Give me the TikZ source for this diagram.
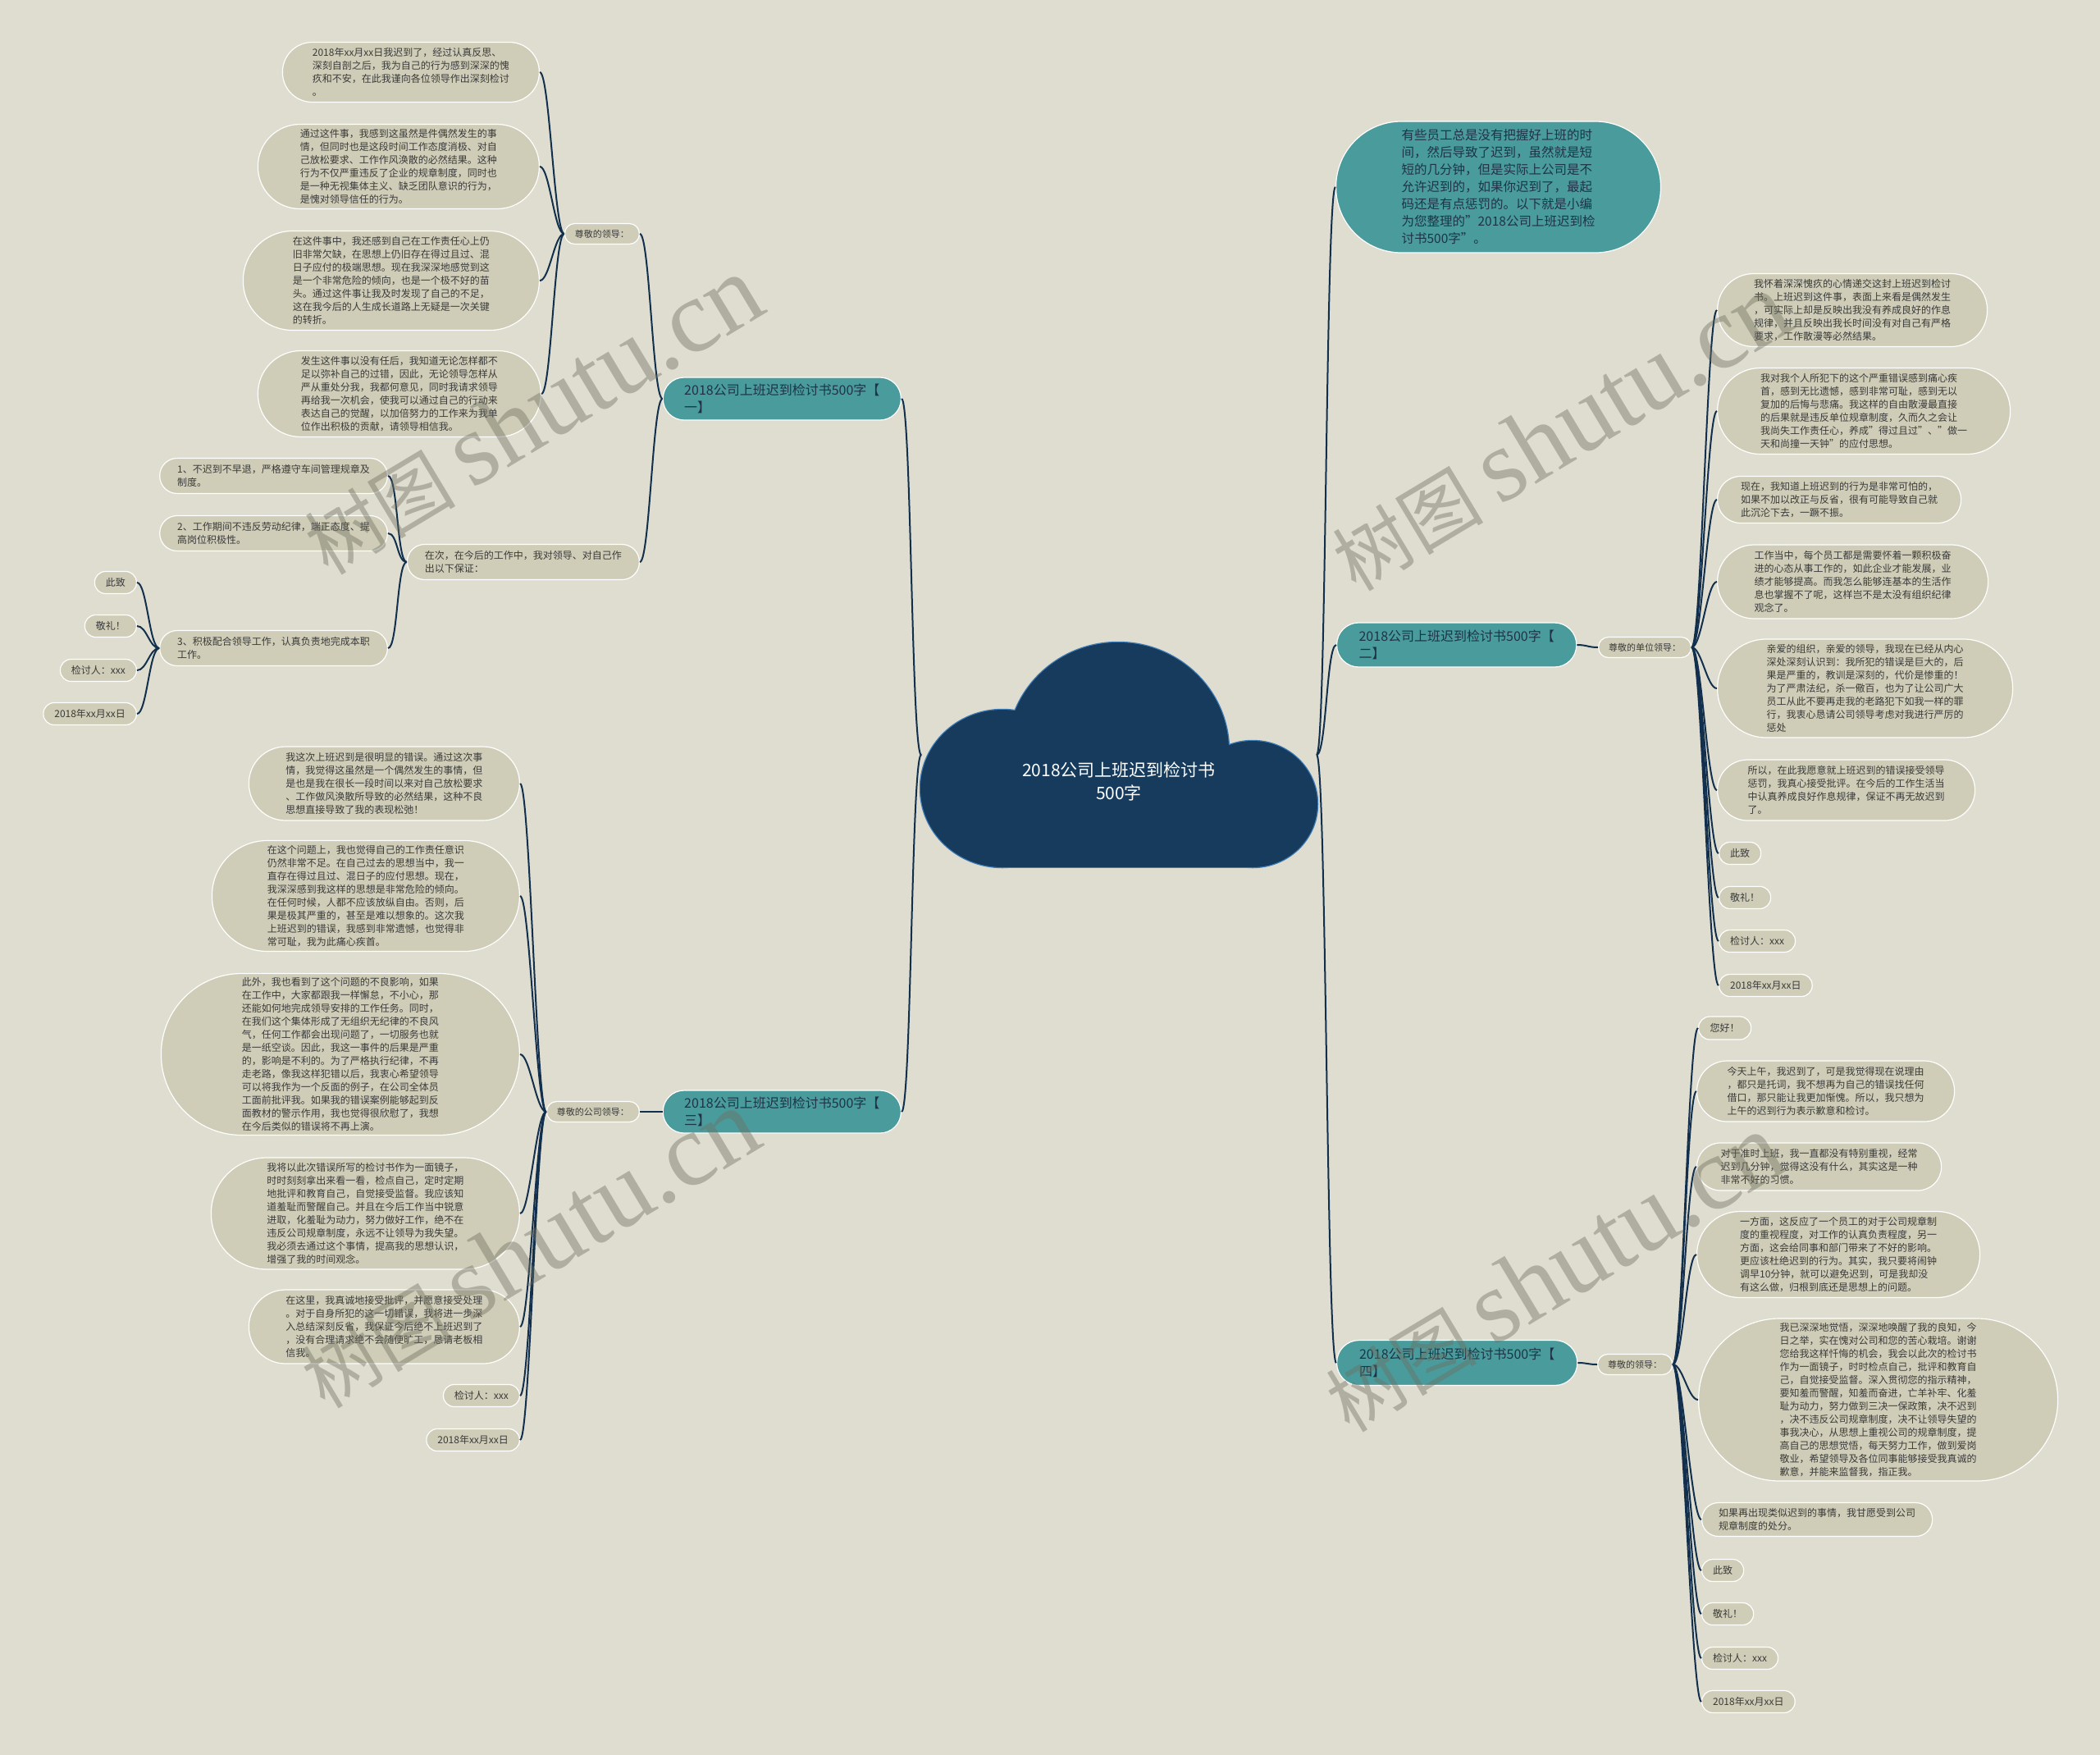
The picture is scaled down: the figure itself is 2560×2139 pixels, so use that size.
\documentclass[tikz,border=0pt]{standalone}
\usepackage{fontspec}
\setmainfont{Noto Sans CJK SC}
\newfontfamily\wmfont{Liberation Serif}
\definecolor{bgc}{HTML}{DEDDCF}
\definecolor{leafc}{HTML}{CFCDB7}
\definecolor{tealc}{HTML}{4A9B9C}
\definecolor{cloudc}{HTML}{163B5C}
\definecolor{cloudedge}{HTML}{3F7CB8}
\definecolor{linkc}{HTML}{12304D}
\definecolor{txtc}{HTML}{3A3A3A}
\definecolor{topictxt}{HTML}{1E3446}
\definecolor{wmc}{HTML}{6E6E60}
\begin{document}
\begin{tikzpicture}[x=1pt,y=-1pt,
        leaf/.style={rectangle,fill=leafc,draw=white,line width=1.2pt,
          minimum height=#1,inner ysep=0pt,inner xsep=#1/2,rounded corners=#1/2-0.3,
          align=left,text=txtc,font=\fontsize{12}{16}\selectfont},
        leaf/.default=27,
        tag/.style={leaf=27},
        ask/.style={leaf=25,font=\fontsize{11}{14}\selectfont},
        topic/.style={leaf=#1,fill=tealc,text=topictxt,font=\fontsize{16}{21}\selectfont},
        topic/.default=52,
        link/.style={draw=linkc,line width=2pt},
        toL/.style={to path={.. controls +(-12,0) and +(12,0) .. (\tikztotarget)}},
        toR/.style={to path={.. controls +(12,0) and +(-12,0) .. (\tikztotarget)}},
        wmark/.style={rotate=31,text=wmc,text opacity=0.42,inner sep=0pt,
          font=\fontsize{92}{92}\selectfont}]
        %\draw[very thin,gray,step=100] (0,0) grid (2560,2139) ;
        \useasboundingbox (0,0) rectangle (2560,2139) ;
        \fill[bgc] (0,0) rectangle (2560,2139) ;
        % cloud: outline first, then the fill on top
        \draw[cloudedge,line width=2.5pt] (1363,915) ellipse (135 and 132) ;
        \draw[cloudedge,line width=2.5pt] (1222,961) ellipse (100 and 96) ;
        \draw[cloudedge,line width=2.5pt] (1527,980) ellipse (79 and 77) ;
        \draw[cloudedge,line width=2.5pt] (1222,961) rectangle (1527,1057) ;
        \fill[cloudc] (1363,915) ellipse (135 and 132) ;
        \fill[cloudc] (1222,961) ellipse (100 and 96) ;
        \fill[cloudc] (1527,980) ellipse (79 and 77) ;
        \fill[cloudc] (1222,961) rectangle (1527,1057) ;
        \node[font=\fontsize{21}{28}\selectfont,text=white,align=center] (root) at (1364,952)
          {2018公司上班迟到检讨书\\500字} ;
        \coordinate (rootL) at (1123,920) ;
        \coordinate (rootR) at (1605,920) ;
        % left side
        \node[topic,anchor=east] (b1) at (1099,486) {2018公司上班迟到检讨书500字【\\一】} ;
        \node[topic,anchor=east] (b3) at (1099,1355) {2018公司上班迟到检讨书500字【\\三】} ;
        \node[ask,anchor=east] (s1) at (780,285) {尊敬的领导：} ;
        \node[leaf=73,anchor=east] (p1a) at (658,88) {2018年xx月xx日我迟到了，经过认真反思、\\深刻自剖之后，我为自己的行为感到深深的愧\\疚和不安，在此我谨向各位领导作出深刻检讨\\。} ;
        \node[leaf=103,anchor=east] (p1b) at (658,203) {通过这件事，我感到这虽然是件偶然发生的事\\情，但同时也是这段时间工作态度消极、对自\\己放松要求、工作作风涣散的必然结果。这种\\行为不仅严重违反了企业的规章制度，同时也\\是一种无视集体主义、缺乏团队意识的行为，\\是愧对领导信任的行为。} ;
        \node[leaf=121,anchor=east] (p1c) at (658,342) {在这件事中，我还感到自己在工作责任心上仍\\旧非常欠缺，在思想上仍旧存在得过且过、混\\日子应付的极端思想。现在我深深地感觉到这\\是一个非常危险的倾向，也是一个极不好的苗\\头。通过这件事让我及时发现了自己的不足，\\这在我今后的人生成长道路上无疑是一次关键\\的转折。} ;
        \node[leaf=105,anchor=east] (p1d) at (660,480) {发生这件事以没有任后，我知道无论怎样都不\\足以弥补自己的过错，因此，无论领导怎样从\\严从重处分我，我都何意见，同时我请求领导\\再给我一次机会，使我可以通过自己的行动来\\表达自己的觉醒，以加倍努力的工作来为我单\\位作出积极的贡献，请领导相信我。} ;
        \node[leaf=43,anchor=east] (vow) at (780,685) {在次，在今后的工作中，我对领导、对自己作\\出以下保证：} ;
        \node[leaf=43,anchor=east] (v1) at (473,580) {1、不迟到不早退，严格遵守车间管理规章及\\制度。} ;
        \node[leaf=43,anchor=east] (v2) at (473,650) {2、工作期间不违反劳动纪律，端正态度、提\\高岗位积极性。} ;
        \node[leaf=43,anchor=east] (v3) at (473,790) {3、积极配合领导工作，认真负责地完成本职\\工作。} ;
        \node[tag,anchor=east] (e1a) at (167,710) {此致} ;
        \node[tag,anchor=east] (e1b) at (167,763) {敬礼！} ;
        \node[tag,anchor=east] (e1c) at (167,817) {检讨人：xxx} ;
        \node[tag,anchor=east] (e1d) at (167,870) {2018年xx月xx日} ;
        \node[ask,anchor=east] (s3) at (780,1355) {尊敬的公司领导：} ;
        \node[leaf=90,anchor=east] (p3a) at (634,955) {我这次上班迟到是很明显的错误。通过这次事\\情，我觉得这虽然是一个偶然发生的事情，但\\是也是我在很长一段时间以来对自己放松要求\\、工作做风涣散所导致的必然结果，这种不良\\思想直接导致了我的表现松弛！} ;
        \node[leaf=135,anchor=east] (p3b) at (634,1092) {在这个问题上，我也觉得自己的工作责任意识\\仍然非常不足。在自己过去的思想当中，我一\\直存在得过且过、混日子的应付思想。现在，\\我深深感到我这样的思想是非常危险的倾向。\\在任何时候，人都不应该放纵自由。否则，后\\果是极其严重的，甚至是难以想象的。这次我\\上班迟到的错误，我感到非常遗憾，也觉得非\\常可耻，我为此痛心疾首。} ;
        \node[leaf=197,anchor=east] (p3c) at (634,1285) {此外，我也看到了这个问题的不良影响，如果\\在工作中，大家都跟我一样懈怠，不小心，那\\还能如何地完成领导安排的工作任务。同时，\\在我们这个集体形成了无组织无纪律的不良风\\气，任何工作都会出现问题了，一切服务也就\\是一纸空谈。因此，我这一事件的后果是严重\\的，影响是不利的。为了严格执行纪律，不再\\走老路，像我这样犯错以后，我衷心希望领导\\可以将我作为一个反面的例子，在公司全体员\\工面前批评我。如果我的错误案例能够起到反\\面教材的警示作用，我也觉得很欣慰了，我想\\在今后类似的错误将不再上演。} ;
        \node[leaf=136,anchor=east] (p3d) at (634,1479) {我将以此次错误所写的检讨书作为一面镜子，\\时时刻刻拿出来看一看，检点自己，定时定期\\地批评和教育自己，自觉接受监督。我应该知\\道羞耻而警醒自己。并且在今后工作当中锐意\\进取，化羞耻为动力，努力做好工作，绝不在\\违反公司规章制度，永远不让领导为我失望。\\我必须去通过这个事情，提高我的思想认识，\\增强了我的时间观念。} ;
        \node[leaf=90,anchor=east] (p3e) at (634,1617) {在这里，我真诚地接受批评，并愿意接受处理\\。对于自身所犯的这一切错误，我将进一步深\\入总结深刻反省，我保证今后绝不上班迟到了\\，没有合理请求绝不会随便旷工，恳请老板相\\信我。} ;
        \node[tag,anchor=east] (e3a) at (634,1701) {检讨人：xxx} ;
        \node[tag,anchor=east] (e3b) at (634,1755) {2018年xx月xx日} ;
        % right side
        \node[topic=160,anchor=west,font=\fontsize{15.5}{21}\selectfont] (intro) at (1628,228) {有些员工总是没有把握好上班的时\\间，然后导致了迟到，虽然就是短\\短的几分钟，但是实际上公司是不\\允许迟到的，如果你迟到了，最起\\码还是有点惩罚的。以下就是小编\\为您整理的"2018公司上班迟到检\\讨书500字"。} ;
        \node[topic=54,anchor=west] (b2) at (1629,786) {2018公司上班迟到检讨书500字【\\二】} ;
        \node[topic=55,anchor=west] (b4) at (1629,1661) {2018公司上班迟到检讨书500字【\\四】} ;
        \node[ask,anchor=west] (s2) at (1948,789) {尊敬的单位领导：} ;
        \node[leaf=89,anchor=west] (p2a) at (2093,378) {我怀着深深愧疚的心情递交这封上班迟到检讨\\书。上班迟到这件事，表面上来看是偶然发生\\，可实际上却是反映出我没有养成良好的作息\\规律，并且反映出我长时间没有对自己有严格\\要求，工作散漫等必然结果。} ;
        \node[leaf=105,anchor=west] (p2b) at (2093,501) {我对我个人所犯下的这个严重错误感到痛心疾\\首，感到无比遗憾，感到非常可耻，感到无以\\复加的后悔与悲痛。我这样的自由散漫最直接\\的后果就是违反单位规章制度，久而久之会让\\我尚失工作责任心，养成"得过且过"、"做一\\天和尚撞一天钟"的应付思想。} ;
        \node[leaf=57,anchor=west] (p2c) at (2093,609) {现在，我知道上班迟到的行为是非常可怕的，\\如果不加以改正与反省，很有可能导致自己就\\此沉沦下去，一蹶不振。} ;
        \node[leaf=90,anchor=west] (p2d) at (2093,709) {工作当中，每个员工都是需要怀着一颗积极奋\\进的心态从事工作的，如此企业才能发展，业\\绩才能够提高。而我怎么能够连基本的生活作\\息也掌握不了呢，这样岂不是太没有组织纪律\\观念了。} ;
        \node[leaf=120,anchor=west] (p2e) at (2093,839) {亲爱的组织，亲爱的领导，我现在已经从内心\\深处深刻认识到：我所犯的错误是巨大的，后\\果是严重的，教训是深刻的，代价是惨重的！\\为了严肃法纪，杀一儆百，也为了让公司广大\\员工从此不要再走我的老路犯下如我一样的罪\\行，我衷心恳请公司领导考虑对我进行严厉的\\惩处} ;
        \node[leaf=74,anchor=west] (p2f) at (2093,963) {所以，在此我愿意就上班迟到的错误接受领导\\惩罚，我真心接受批评。在今后的工作生活当\\中认真养成良好作息规律，保证不再无故迟到\\了。} ;
        \node[tag,anchor=west] (e2a) at (2095,1040) {此致} ;
        \node[tag,anchor=west] (e2b) at (2095,1094) {敬礼！} ;
        \node[tag,anchor=west] (e2c) at (2095,1147) {检讨人：xxx} ;
        \node[tag,anchor=west] (e2d) at (2095,1201) {2018年xx月xx日} ;
        \node[ask,anchor=west] (s4) at (1947,1663) {尊敬的领导：} ;
        \node[leaf=28,anchor=west] (p4a) at (2070,1253) {您好！} ;
        \node[leaf=74,anchor=west] (p4b) at (2068,1330) {今天上午，我迟到了，可是我觉得现在说理由\\，都只是托词，我不想再为自己的错误找任何\\借口，那只能让我更加惭愧。所以，我只想为\\上午的迟到行为表示歉意和检讨。} ;
        \node[leaf=58,anchor=west] (p4c) at (2068,1422) {对于准时上班，我一直都没有特别重视，经常\\迟到几分钟，觉得这没有什么，其实这是一种\\非常不好的习惯。} ;
        \node[leaf=105,anchor=west] (p4d) at (2068,1529) {一方面，这反应了一个员工的对于公司规章制\\度的重视程度，对工作的认真负责程度，另一\\方面，这会给同事和部门带来了不好的影响。\\更应该杜绝迟到的行为。其实，我只要将闹钟\\调早10分钟，就可以避免迟到，可是我却没\\有这么做，归根到底还是思想上的问题。} ;
        \node[leaf=198,anchor=west] (p4e) at (2070,1706) {我已深深地觉悟，深深地唤醒了我的良知，今\\日之举，实在愧对公司和您的苦心栽培。谢谢\\您给我这样忏悔的机会，我会以此次的检讨书\\作为一面镜子，时时检点自己，批评和教育自\\己，自觉接受监督。深入贯彻您的指示精神，\\要知羞而警醒，知羞而奋进，亡羊补牢、化羞\\耻为动力，努力做到三决一保政策，决不迟到\\，决不违反公司规章制度，决不让领导失望的\\事我决心，从思想上重视公司的规章制度，提\\高自己的思想觉悟，每天努力工作，做到爱岗\\敬业，希望领导及各位同事能够接受我真诚的\\歉意，并能来监督我，指正我。} ;
        \node[leaf=41,anchor=west] (p4f) at (2074,1852) {如果再出现类似迟到的事情，我甘愿受到公司\\规章制度的处分。} ;
        \node[tag,anchor=west] (e4a) at (2074,1914) {此致} ;
        \node[tag,anchor=west] (e4b) at (2074,1967) {敬礼！} ;
        \node[tag,anchor=west] (e4c) at (2074,2021) {检讨人：xxx} ;
        \node[tag,anchor=west] (e4d) at (2074,2074) {2018年xx月xx日} ;
        % connectors, left
        \draw[link] (rootL) to[toL] (b1.east) ;
        \draw[link] (rootL) to[toL] (b3.east) ;
        \draw[link] (b1.west) to[toL] (s1.east) ;
        \draw[link] (b1.west) to[toL] (vow.east) ;
        \draw[link] (s1.west) to[toL] (p1a.east) ;
        \draw[link] (s1.west) to[toL] (p1b.east) ;
        \draw[link] (s1.west) to[toL] (p1c.east) ;
        \draw[link] (s1.west) to[toL] (p1d.east) ;
        \draw[link] (vow.west) to[toL] (v1.east) ;
        \draw[link] (vow.west) to[toL] (v2.east) ;
        \draw[link] (vow.west) to[toL] (v3.east) ;
        \draw[link] (v3.west) to[toL] (e1a.east) ;
        \draw[link] (v3.west) to[toL] (e1b.east) ;
        \draw[link] (v3.west) to[toL] (e1c.east) ;
        \draw[link] (v3.west) to[toL] (e1d.east) ;
        \draw[link] (b3.west) to[toL] (s3.east) ;
        \draw[link] (s3.west) to[toL] (p3a.east) ;
        \draw[link] (s3.west) to[toL] (p3b.east) ;
        \draw[link] (s3.west) to[toL] (p3c.east) ;
        \draw[link] (s3.west) to[toL] (p3d.east) ;
        \draw[link] (s3.west) to[toL] (p3e.east) ;
        \draw[link] (s3.west) to[toL] (e3a.east) ;
        \draw[link] (s3.west) to[toL] (e3b.east) ;
        % connectors, right
        \draw[link] (rootR) to[toR] (intro.west) ;
        \draw[link] (rootR) to[toR] (b2.west) ;
        \draw[link] (rootR) to[toR] (b4.west) ;
        \draw[link] (b2.east) to[toR] (s2.west) ;
        \draw[link] (s2.east) to[toR] (p2a.west) ;
        \draw[link] (s2.east) to[toR] (p2b.west) ;
        \draw[link] (s2.east) to[toR] (p2c.west) ;
        \draw[link] (s2.east) to[toR] (p2d.west) ;
        \draw[link] (s2.east) to[toR] (p2e.west) ;
        \draw[link] (s2.east) to[toR] (p2f.west) ;
        \draw[link] (s2.east) to[toR] (e2a.west) ;
        \draw[link] (s2.east) to[toR] (e2b.west) ;
        \draw[link] (s2.east) to[toR] (e2c.west) ;
        \draw[link] (s2.east) to[toR] (e2d.west) ;
        \draw[link] (b4.east) to[toR] (s4.west) ;
        \draw[link] (s4.east) to[toR] (p4a.west) ;
        \draw[link] (s4.east) to[toR] (p4b.west) ;
        \draw[link] (s4.east) to[toR] (p4c.west) ;
        \draw[link] (s4.east) to[toR] (p4d.west) ;
        \draw[link] (s4.east) to[toR] (p4e.west) ;
        \draw[link] (s4.east) to[toR] (p4f.west) ;
        \draw[link] (s4.east) to[toR] (e4a.west) ;
        \draw[link] (s4.east) to[toR] (e4b.west) ;
        \draw[link] (s4.east) to[toR] (e4c.west) ;
        \draw[link] (s4.east) to[toR] (e4d.west) ;
        % watermarks
        \node[wmark] (wm1) at (649,506) {树图 {\wmfont\fontsize{126}{126}\selectfont shutu.cn}} ;
        \node[wmark] (wm2) at (1902,526) {树图 {\wmfont\fontsize{126}{126}\selectfont shutu.cn}} ;
        \node[wmark] (wm3) at (645,1522) {树图 {\wmfont\fontsize{126}{126}\selectfont shutu.cn}} ;
        \node[wmark] (wm4) at (1894,1551) {树图 {\wmfont\fontsize{126}{126}\selectfont shutu.cn}} ;
\end{tikzpicture}
\end{document}
